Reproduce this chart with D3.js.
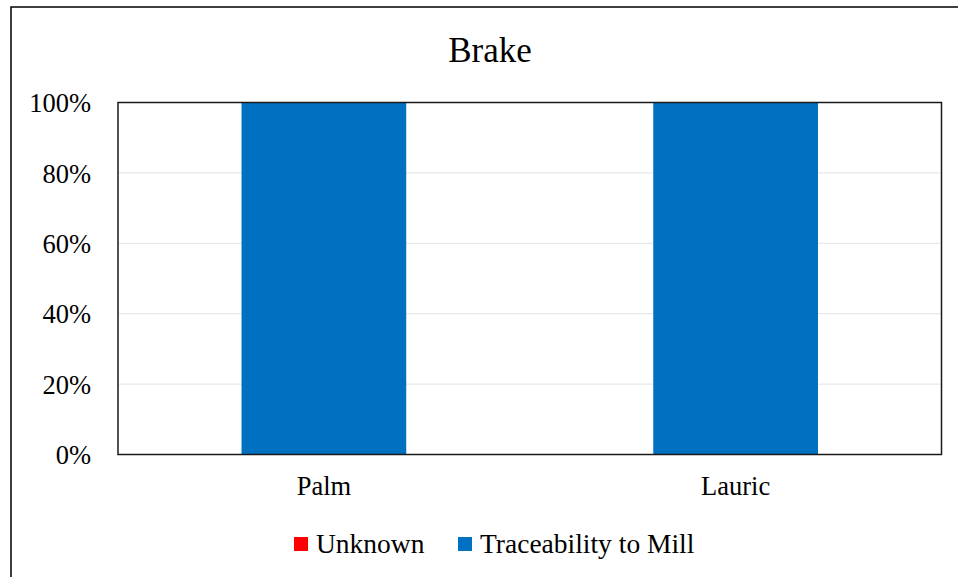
<!DOCTYPE html>
<html>
<head>
<meta charset="utf-8">
<script src="https://cdn.jsdelivr.net/npm/d3@7"></script>
<style>
  body { margin: 0; background: #fff; }
  text { font-family: "Liberation Serif", "Times New Roman", Times, "DejaVu Serif", serif; fill: #000; }
</style>
</head>
<body>
<div id="chart"></div>
<script>
// chart data
var title = "Brake";
var categories = ["Palm", "Lauric"];
var seriesNames = ["Unknown", "Traceability to Mill"];
var unknownValues = [0, 0];
var traceValues = [100, 100];
var yTicks = [0, 20, 40, 60, 80, 100];
var colors = ["#ff0000", "#0070c0"];

var serif = '"Liberation Serif", "Times New Roman", Times, "DejaVu Serif", serif';

var width = 958, height = 577;
var margin = {top: 102.5, right: 16.5, bottom: 122.5, left: 118};
var w = width - margin.left - margin.right,
    h = height - margin.top - margin.bottom;

var svg = d3.select("#chart").append("svg")
  .attr("width", width)
  .attr("height", height);

// outer frame
svg.append("rect")
  .attr("x", 11).attr("y", 7)
  .attr("width", 970).attr("height", 600)
  .attr("fill", "none")
  .attr("stroke", "#000")
  .attr("stroke-width", 1.5);

svg.append("text")
  .attr("x", 490).attr("y", 62)
  .attr("text-anchor", "middle")
  .style("font-family", serif)
  .style("font-size", "35px")
  .text(title);

var g = svg.append("g")
  .attr("transform", "translate(" + margin.left + "," + margin.top + ")");

var x = d3.scaleBand().domain(categories).range([0, w])
  .paddingInner(0.6).paddingOuter(0.3);
var y = d3.scaleLinear().domain([0, 100]).range([h, 0]);

// gridlines
g.append("g").selectAll("line")
  .data(yTicks.filter(function(d) { return d > 0 && d < 100; }))
  .enter().append("line")
    .attr("x1", 0).attr("x2", w)
    .attr("y1", function(d) { return y(d); })
    .attr("y2", function(d) { return y(d); })
    .attr("stroke", "#e3e3e3")
    .attr("stroke-width", 1);

// stacked bars
var rows = categories.map(function(c, i) {
  return {cat: c, Unknown: unknownValues[i], "Traceability to Mill": traceValues[i]};
});
var stack = d3.stack().keys(seriesNames)(rows);

g.selectAll(".series")
  .data(stack)
  .enter().append("g")
    .attr("fill", function(d, i) { return colors[i]; })
  .selectAll("rect")
  .data(function(d) { return d; })
  .enter().append("rect")
    .attr("x", function(d) { return x(d.data.cat); })
    .attr("y", function(d) { return y(d[1]); })
    .attr("width", x.bandwidth())
    .attr("height", function(d) { return y(d[0]) - y(d[1]); });

// plot area border
g.append("rect")
  .attr("width", w).attr("height", h)
  .attr("fill", "none")
  .attr("stroke", "#1a1a1a")
  .attr("stroke-width", 1.5);

// y axis labels
var yAxis = g.append("g")
  .call(d3.axisLeft(y).tickValues(yTicks).tickSize(0).tickPadding(27)
    .tickFormat(function(d) { return d + "%"; }));
yAxis.attr("font-family", null);
yAxis.select(".domain").remove();
yAxis.selectAll("text")
  .style("font-family", serif)
  .style("font-size", "26.5px")
  .attr("dy", "0.35em");

// x axis labels
var xAxis = g.append("g")
  .attr("transform", "translate(0," + h + ")")
  .call(d3.axisBottom(x).tickSize(0).tickPadding(22));
xAxis.attr("font-family", null);
xAxis.select(".domain").remove();
xAxis.selectAll("text")
  .style("font-family", serif)
  .style("font-size", "26.5px");

// legend
var legendX = [294, 458];
var legend = svg.append("g");
seriesNames.forEach(function(name, i) {
  legend.append("rect")
    .attr("x", legendX[i]).attr("y", 537)
    .attr("width", 14).attr("height", 14)
    .attr("fill", colors[i]);
  legend.append("text")
    .attr("x", legendX[i] + 22).attr("y", 553)
    .style("font-family", serif)
    .style("font-size", "27.5px")
    .text(name);
});
</script>
</body>
</html>
